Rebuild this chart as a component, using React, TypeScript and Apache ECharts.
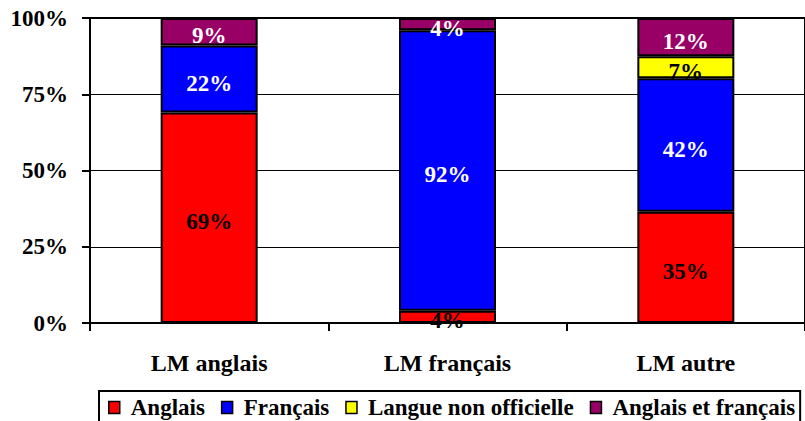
import React, { useEffect, useRef } from 'react';
import * as echarts from 'echarts';

const categories = ['LM anglais', 'LM français', 'LM autre'];
const seriesNames = ['Anglais', 'Français', 'Langue non officielle', 'Anglais et français'];
const anglais = [69, 4, 35];
const francais = [22, 92, 42];
const nonOfficielle = [0, 0, 7];
const anglaisEtFrancais = [9, 4, 12];
const seriesColors = ['#FF0000', '#0000FF', '#FFFF00', '#990066'];
const labelColors = ['#000000', '#FFFFFF', '#000000', '#FFFFFF'];

const FONT = "'Liberation Serif', 'Times New Roman', serif";

export default function App() {
  const ref = useRef<HTMLDivElement>(null);
  useEffect(() => {
    if (!ref.current) return;
    const chart = echarts.init(ref.current, null, { renderer: 'svg' });
    const all = [anglais, francais, nonOfficielle, anglaisEtFrancais];
    const totals = categories.map((_, i) => all.reduce((s, arr) => s + arr[i], 0));
    const series = all.map((arr, si) => ({
      name: seriesNames[si],
      type: 'bar',
      stack: 'total',
      barWidth: 97,
      itemStyle: { color: seriesColors[si], borderColor: '#000', borderWidth: 2 },
      label: {
        show: true,
        position: 'inside',
        offset: [0, 4],
        color: labelColors[si],
        fontFamily: FONT,
        fontWeight: 'bold',
        fontSize: 23,
        formatter: (p: any) => (p.data && p.data.raw ? p.data.raw + '%' : ''),
      },
      data: arr.map((v, i) => (v === 0 ? '-' : { value: (v / totals[i]) * 100, raw: v })),
    }));
    chart.setOption({
      animation: false,
      backgroundColor: '#fff',
      grid: { left: 90, top: 18, width: 726, height: 305, show: true, borderColor: '#000', borderWidth: 2 },
      xAxis: {
        type: 'category',
        data: categories,
        axisLine: { lineStyle: { color: '#000', width: 2 } },
        axisTick: { show: true, length: 8, lineStyle: { color: '#000', width: 2 } },
        axisLabel: { color: '#000', fontFamily: FONT, fontWeight: 'bold', fontSize: 24, margin: 28 },
      },
      yAxis: {
        type: 'value',
        min: 0,
        max: 100,
        interval: 25,
        axisLine: { show: true, lineStyle: { color: '#000', width: 2 } },
        axisTick: { show: true, length: 8, lineStyle: { color: '#000', width: 2 } },
        splitLine: { show: true, lineStyle: { color: '#000', width: 1 } },
        axisLabel: {
          color: '#000', fontFamily: FONT, fontWeight: 'bold', fontSize: 23, margin: 22,
          formatter: '{value}%',
          padding: [13, 0, 0, 0],
        },
      },
      legend: {
        left: 99,
        top: 391,
        padding: [5, 5, 12, 9],
        itemGap: 16,
        itemWidth: 11,
        itemHeight: 12,
        borderColor: '#000',
        borderWidth: 2,
        icon: 'rect',
        itemStyle: { borderColor: '#000', borderWidth: 1.5 },
        textStyle: { color: '#000', fontFamily: FONT, fontWeight: 'bold', fontSize: 23, padding: [0, 0, 0, 6] },
        data: seriesNames,
      },
      series,
    });
    return () => chart.dispose();
  }, []);
  return <div ref={ref} style={{ position: 'fixed', left: 0, top: 0, width: 805, height: 421 }} />;
}
